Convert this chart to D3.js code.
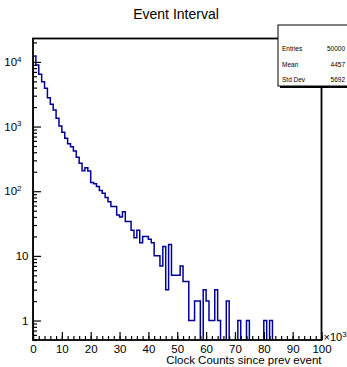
<!DOCTYPE html>
<html>
<head>
<meta charset="utf-8">
<script src="https://cdn.jsdelivr.net/npm/d3@7"></script>
<style>
  body { margin: 0; background: #fff; }
  svg { display: block; font-family: "Liberation Sans", Arial, Helvetica, sans-serif; }
</style>
</head>
<body>
<svg id="chart" width="347" height="367"></svg>
<script>
// histogram: 100 bins over 0..100 (x10^3 clock counts)
const binLow = 0;
const binHigh = 100;
const binCounts = [
  12300, 8960, 6430, 4940, 3910, 2800, 2210, 1810, 1340, 1020,
  816, 659, 544, 489, 420, 335, 271, 208, 230, 205,
  136, 130, 118, 103, 93, 80, 69, 58, 58, 43,
  40, 48, 34, 34, 25, 19, 25, 16, 20, 20,
  18, 16, 10, 10, 7, 14, 3, 15, 5, 5,
  5, 7, 4, 4, 1, 1, 2, 2, 0, 3,
  2, 1, 1, 3, 1, 0, 0, 2, 0, 0,
  0, 1, 0, 0, 1, 0, 0, 0, 0, 0,
  1, 0, 1, 0, 0, 0, 0, 0, 0, 0,
  0, 0, 0, 0, 0, 0, 0, 0, 0, 0
];

const xMajorTicks = [0, 10, 20, 30, 40, 50, 60, 70, 80, 90, 100];
const xMinorTicks = d3.range(0, 101, 2);
const yMajorTicks = [1, 10, 100, 1000, 10000];

const statNames = ['Entries', 'Mean', 'Std Dev'];
const statValues = ['50000', '4457', '5692'];

const titleText = 'Event Interval';
const xTitleText = 'Clock Counts since prev event';

const svg = d3.select('#chart');

const frame = { left: 33, right: 321.5, top: 38.5, bottom: 340 };

const x = d3.scaleLinear().domain([binLow, binHigh]).range([frame.left, frame.right]);
const y = d3.scaleLog().domain([0.5, 23000]).range([frame.bottom, frame.top]);

const binWidth = (binHigh - binLow) / binCounts.length;

// title
svg.append('text')
  .attr('x', 176)
  .attr('y', 18.5)
  .attr('text-anchor', 'middle')
  .attr('font-size', 14)
  .text(titleText);

svg.append('clipPath').attr('id', 'clip')
  .append('rect')
  .attr('x', frame.left).attr('y', frame.top)
  .attr('width', frame.right - frame.left)
  .attr('height', frame.bottom - frame.top);

// histogram outline
const pts = [{ x: binLow, y: frame.bottom + 2 }];
binCounts.forEach((c, i) => {
  pts.push({ x: binLow + i * binWidth, y: c > 0 ? y(c) : frame.bottom + 2 });
});
pts.push({ x: binHigh, y: frame.bottom + 2 });

const line = d3.line()
  .x((d) => x(d.x))
  .y((d) => d.y)
  .curve(d3.curveStepAfter);

svg.append('path')
  .datum(pts)
  .attr('clip-path', 'url(#clip)')
  .attr('fill', 'none')
  .attr('stroke', '#000099')
  .attr('stroke-width', 1.5)
  .attr('d', line);

// x axis
const xMinor = svg.append('g')
  .attr('transform', `translate(0,${frame.bottom})`)
  .call(d3.axisBottom(x).tickValues(xMinorTicks).tickSize(-4).tickFormat(''));
xMinor.select('.domain').remove();

const xMajor = svg.append('g')
  .attr('transform', `translate(0,${frame.bottom})`)
  .call(d3.axisBottom(x).tickValues(xMajorTicks).tickSize(-8).tickPadding(5));
xMajor.select('.domain').remove();
xMajor.selectAll('text')
  .attr('font-size', 11.5)
  .attr('font-family', '"Liberation Sans", Arial, sans-serif')
  .attr('fill', '#000');

svg.selectAll('.tick line').attr('stroke', '#000').attr('stroke-width', 1.2);

// y axis (log)
const yMinorTicks = [];
[0.1, 1, 10, 100, 1000, 10000].forEach((dec) => {
  for (let k = 2; k <= 9; k++) {
    const v = dec * k;
    if (v >= 0.5 && v <= 23000) yMinorTicks.push(v);
  }
});

const yMinor = svg.append('g')
  .attr('transform', `translate(${frame.left},0)`)
  .call(d3.axisLeft(y).tickValues(yMinorTicks).tickSize(-4).tickFormat(''));
yMinor.select('.domain').remove();

const yMajor = svg.append('g')
  .attr('transform', `translate(${frame.left},0)`)
  .call(d3.axisLeft(y).tickValues(yMajorTicks).tickSize(-8).tickPadding(4).tickFormat(''));
yMajor.select('.domain').remove();

yMajor.selectAll('.tick text').each(function (d) {
  const t = d3.select(this)
    .attr('font-size', 11.5)
    .attr('fill', '#000');
  const exp = Math.round(Math.log10(d));
  if (exp >= 2) {
    t.attr('x', -11.5);
    t.append('tspan').text('10');
    t.append('tspan').attr('font-size', 8).attr('dy', '-0.55em').text(exp);
  } else {
    t.attr('x', -4.5);
    t.text(d);
  }
});

svg.selectAll('.tick line').attr('stroke', '#000').attr('stroke-width', 1.2);

// frame
svg.append('rect')
  .attr('x', frame.left).attr('y', frame.top)
  .attr('width', frame.right - frame.left)
  .attr('height', frame.bottom - frame.top)
  .attr('fill', 'none')
  .attr('stroke', '#000')
  .attr('stroke-width', 1.8);

// x10^3 multiplier
const mult = svg.append('text')
  .attr('x', 323.5)
  .attr('y', 341)
  .attr('font-size', 11);
mult.append('tspan').text('\u00d710');
mult.append('tspan').attr('font-size', 8).attr('dy', '-0.5em').text('3');

// x title
svg.append('text')
  .attr('x', frame.right)
  .attr('y', 364)
  .attr('text-anchor', 'end')
  .attr('font-size', 11.5)
  .text(xTitleText);

// stats box
const box = { x: 278, y: 25, w: 80, h: 61 };
svg.append('rect')
  .attr('x', box.x + 2).attr('y', box.y + 2)
  .attr('width', box.w).attr('height', box.h)
  .attr('fill', '#000');
svg.append('rect')
  .attr('x', box.x).attr('y', box.y)
  .attr('width', box.w).attr('height', box.h)
  .attr('fill', '#fff')
  .attr('stroke', '#000')
  .attr('stroke-width', 1);

statNames.forEach((name, i) => {
  const by = 51 + i * 15.5;
  svg.append('text')
    .attr('x', 282).attr('y', by)
    .attr('font-size', 6.5)
    .text(name);
  svg.append('text')
    .attr('x', 345).attr('y', by)
    .attr('text-anchor', 'end')
    .attr('font-size', 6.5)
    .text(statValues[i]);
});
</script>
</body>
</html>
